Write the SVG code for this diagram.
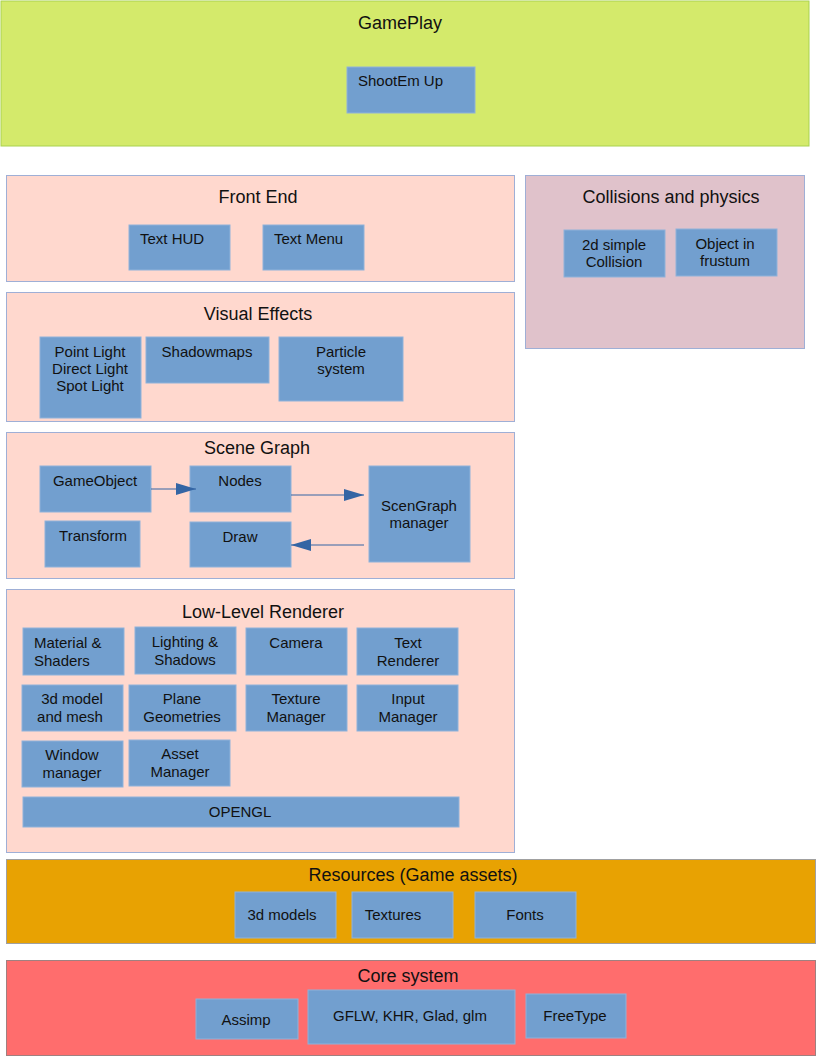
<svg xmlns="http://www.w3.org/2000/svg" width="816" height="1056" viewBox="0 0 816 1056">
<style>
text{font-family:"Liberation Sans",Arial,sans-serif;fill:#111;}
.t{font-size:18px;text-anchor:middle;}
.b{font-size:15px;text-anchor:middle;}
.bl{font-size:15px;}
.box{fill:#729fcf;stroke:#8fb2da;stroke-width:1;}
.pk{fill:#ffd8ce;stroke:#9fafd6;stroke-width:1;}
.con{stroke:#3465a4;stroke-width:1;fill:none;}
</style>
<defs>
<marker id="ah" viewBox="0 0 20 12" refX="20" refY="6" markerWidth="20" markerHeight="12" markerUnits="userSpaceOnUse" orient="auto">
<path d="M0,0 L20,6 L0,12 Z" fill="#3465a4"/>
</marker>
</defs>
<g id="gameplay">
<rect x="1" y="1" width="808" height="145" fill="#d4ea6b" stroke="#a9d24f"/>
<text class="t" x="400" y="29">GamePlay</text>
<g id="shootemup"><rect class="box" x="347" y="67" width="128" height="46"/><text class="bl" x="358" y="86">ShootEm Up</text></g>
</g>
<g id="frontend">
<rect class="pk" x="6.5" y="175.5" width="508" height="106"/>
<text class="t" x="258" y="203">Front End</text>
<g id="texthud"><rect class="box" x="129" y="225" width="101" height="45"/><text class="bl" x="140" y="244">Text HUD</text></g>
<g id="textmenu"><rect class="box" x="263" y="225" width="101" height="45"/><text class="bl" x="274" y="244">Text Menu</text></g>
</g>
<g id="collisions">
<rect x="525.5" y="175.5" width="279" height="173" fill="#e0c2cb" stroke="#9fafd6"/>
<text class="t" x="671" y="203">Collisions and physics</text>
<g id="collision2d"><rect class="box" x="564" y="230" width="101" height="47"/><text class="b" x="614" y="250">2d simple</text><text class="b" x="614" y="267">Collision</text></g>
<g id="frustum"><rect class="box" x="676" y="229" width="101" height="47"/><text class="b" x="725" y="249">Object in</text><text class="b" x="725" y="266">frustum</text></g>
</g>
<g id="visualeffects">
<rect class="pk" x="6.5" y="292.5" width="508" height="129"/>
<text class="t" x="258" y="320">Visual Effects</text>
<g id="lights"><rect class="box" x="40" y="337" width="101" height="81"/><text class="b" x="90" y="357">Point Light</text><text class="b" x="90" y="374">Direct Light</text><text class="b" x="90" y="391">Spot Light</text></g>
<g id="shadowmaps"><rect class="box" x="146" y="337" width="123" height="46"/><text class="b" x="207" y="357">Shadowmaps</text></g>
<g id="particles"><rect class="box" x="279" y="337" width="124" height="64"/><text class="b" x="341" y="357">Particle</text><text class="b" x="341" y="374">system</text></g>
</g>
<g id="scenegraph">
<rect class="pk" x="6.5" y="432.5" width="508" height="146"/>
<text class="t" x="257" y="454">Scene Graph</text>
<g id="gameobject"><rect class="box" x="40" y="466" width="111" height="46"/><text class="b" x="95" y="486">GameObject</text></g>
<g id="nodes"><rect class="box" x="190" y="466" width="101" height="46"/><text class="b" x="240" y="486">Nodes</text></g>
<g id="scenegraphmanager"><rect class="box" x="369" y="466" width="101" height="96"/><text class="b" x="419" y="511">ScenGraph</text><text class="b" x="419" y="528">manager</text></g>
<g id="transform"><rect class="box" x="45" y="521" width="95" height="46"/><text class="b" x="93" y="541">Transform</text></g>
<g id="draw"><rect class="box" x="190" y="522" width="101" height="45"/><text class="b" x="240" y="542">Draw</text></g>
</g>
<g id="lowlevel">
<rect class="pk" x="6.5" y="589.5" width="508" height="263"/>
<text class="t" x="263" y="618">Low-Level Renderer</text>
<g id="material"><rect class="box" x="23" y="628" width="101" height="47"/><text class="bl" x="34" y="648">Material &amp;</text><text class="bl" x="34" y="666">Shaders</text></g>
<g id="lighting"><rect class="box" x="135" y="627" width="101" height="47"/><text class="b" x="185" y="647">Lighting &amp;</text><text class="b" x="185" y="665">Shadows</text></g>
<g id="camera"><rect class="box" x="246" y="628" width="101" height="47"/><text class="b" x="296" y="648">Camera</text></g>
<g id="textrenderer"><rect class="box" x="357" y="628" width="101" height="47"/><text class="b" x="408" y="648">Text</text><text class="b" x="408" y="666">Renderer</text></g>
<g id="model"><rect class="box" x="22" y="685" width="101" height="46"/><text class="b" x="72" y="704">3d model</text><text class="b" x="70" y="722">and mesh</text></g>
<g id="plane"><rect class="box" x="129" y="685" width="107" height="46"/><text class="b" x="182" y="704">Plane</text><text class="b" x="182" y="722">Geometries</text></g>
<g id="texturemgr"><rect class="box" x="246" y="685" width="101" height="46"/><text class="b" x="296" y="704">Texture</text><text class="b" x="296" y="722">Manager</text></g>
<g id="inputmgr"><rect class="box" x="357" y="685" width="101" height="46"/><text class="b" x="408" y="704">Input</text><text class="b" x="408" y="722">Manager</text></g>
<g id="windowmgr"><rect class="box" x="22" y="741" width="101" height="46"/><text class="b" x="72" y="760">Window</text><text class="b" x="72" y="778">manager</text></g>
<g id="assetmgr"><rect class="box" x="129" y="740" width="101" height="46"/><text class="b" x="180" y="759">Asset</text><text class="b" x="180" y="777">Manager</text></g>
<g id="opengl"><rect class="box" x="23" y="797" width="436" height="30"/><text class="b" x="240" y="817">OPENGL</text></g>
</g>
<g id="resources">
<rect x="6.5" y="859.5" width="809" height="84" fill="#e8a202" stroke="#a0a0a0"/>
<text class="t" x="413" y="881">Resources (Game assets)</text>
<g id="models3d"><rect class="box" x="235" y="892" width="101" height="46"/><text class="b" x="282" y="920">3d models</text></g>
<g id="textures"><rect class="box" x="352" y="892" width="101" height="46"/><text class="b" x="393" y="920">Textures</text></g>
<g id="fonts"><rect class="box" x="475" y="892" width="101" height="46"/><text class="b" x="525" y="920">Fonts</text></g>
</g>
<g id="core">
<rect x="6.5" y="960.5" width="809" height="95" fill="#ff6d6d" stroke="#a08080"/>
<text class="t" x="408" y="982">Core system</text>
<g id="assimp"><rect class="box" x="196" y="999" width="102" height="40"/><text class="b" x="246" y="1025">Assimp</text></g>
<g id="gflw"><rect class="box" x="308" y="990" width="207" height="54"/><text class="b" x="410" y="1021">GFLW, KHR, Glad, glm</text></g>
<g id="freetype"><rect class="box" x="526" y="994" width="100" height="44"/><text class="b" x="575" y="1021">FreeType</text></g>
</g>
<g id="connectors">
<line class="con" x1="151" y1="489" x2="196" y2="489" marker-end="url(#ah)"/>
<line class="con" x1="291" y1="495" x2="364" y2="495" marker-end="url(#ah)"/>
<line class="con" x1="364" y1="545" x2="291" y2="545" marker-end="url(#ah)"/>
</g>
</svg>
